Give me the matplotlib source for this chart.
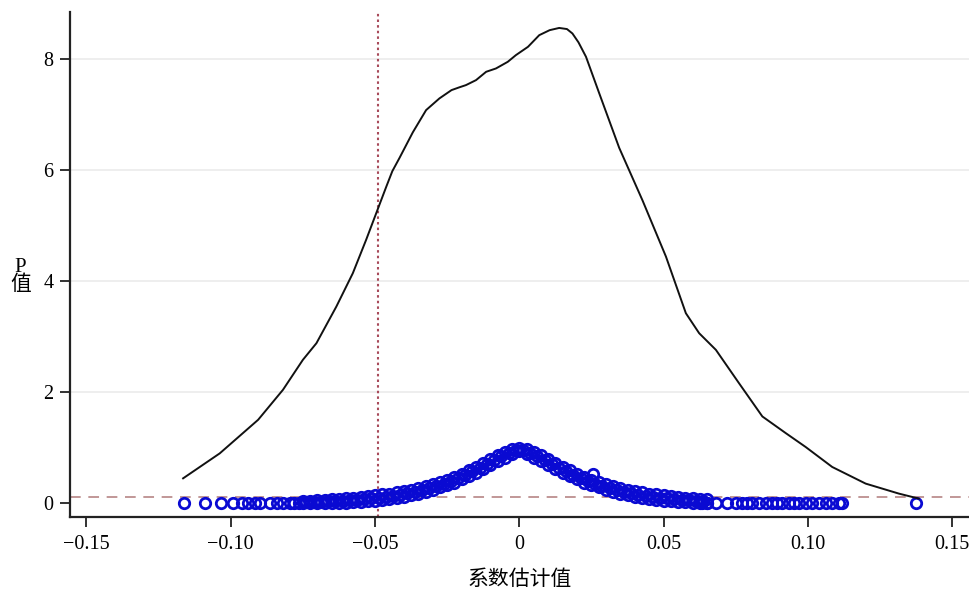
import numpy as np
import matplotlib.pyplot as plt

plt.rcParams['font.family'] = ['Liberation Serif', 'Noto Sans CJK SC', 'DejaVu Sans']
plt.rcParams['axes.unicode_minus'] = True

# kernel density of coefficient estimates (black curve)
kde_x = [-0.1165, -0.1038, -0.0905, -0.0819, -0.0750, -0.0703, -0.0634, -0.0577,
         -0.0531, -0.0496, -0.0461, -0.0440, -0.0415, -0.0369, -0.0323, -0.0277,
         -0.0235, -0.0208, -0.0185, -0.0150, -0.0115, -0.0081, -0.0040, -0.0012,
         0.0030, 0.0069, 0.0105, 0.0138, 0.0165, 0.0184, 0.0205, 0.0231, 0.0277,
         0.0346, 0.0427, 0.0508, 0.0577, 0.0623, 0.0681, 0.0761, 0.0842, 0.0923,
         0.0992, 0.1084, 0.1200, 0.1315, 0.1384]
kde_y = [0.445, 0.895, 1.50, 2.04, 2.58, 2.88, 3.54, 4.14,
         4.74, 5.22, 5.70, 5.98, 6.22, 6.68, 7.08, 7.29,
         7.44, 7.49, 7.53, 7.62, 7.77, 7.83, 7.95, 8.07,
         8.22, 8.43, 8.52, 8.56, 8.54, 8.46, 8.30, 8.04, 7.38,
         6.40, 5.45, 4.44, 3.42, 3.06, 2.76, 2.16, 1.56, 1.26,
         1.01, 0.65, 0.35, 0.17, 0.08]

# p-values of the estimates (blue circles): upper and lower edge of the band
band_x = [-0.075, -0.0725, -0.07, -0.0675, -0.065, -0.0625, -0.06, -0.0575, -0.055,
          -0.0525, -0.05, -0.0475, -0.045, -0.0425, -0.04, -0.0375, -0.035, -0.0325,
          -0.03, -0.0275, -0.025, -0.0225, -0.02, -0.0175, -0.015, -0.0125, -0.01,
          -0.0075, -0.005, -0.0025, 0.0, 0.0025, 0.005, 0.0075, 0.01, 0.0125, 0.015,
          0.0175, 0.02, 0.0225, 0.025, 0.0275, 0.03, 0.0325, 0.035, 0.0375, 0.04,
          0.0425, 0.045, 0.0475, 0.05, 0.0525, 0.055, 0.0575, 0.06, 0.0625, 0.065]
band_hi = [0.04, 0.045, 0.05, 0.055, 0.065, 0.07, 0.085, 0.095, 0.11,
           0.12, 0.14, 0.155, 0.17, 0.19, 0.215, 0.24, 0.27, 0.30,
           0.34, 0.38, 0.42, 0.47, 0.53, 0.59, 0.65, 0.72, 0.79,
           0.86, 0.92, 0.975, 1.00, 0.975, 0.92, 0.86, 0.79, 0.72, 0.65,
           0.59, 0.53, 0.47, 0.42, 0.38, 0.34, 0.30, 0.27, 0.24, 0.215,
           0.19, 0.17, 0.155, 0.14, 0.12, 0.11, 0.095, 0.085, 0.07, 0.065]
band_lo = [0.0, 0.0, 0.0, 0.0, 0.0, 0.0, 0.005, 0.01, 0.02,
           0.03, 0.04, 0.055, 0.07, 0.09, 0.115, 0.14, 0.17, 0.20,
           0.24, 0.28, 0.32, 0.37, 0.43, 0.49, 0.55, 0.62, 0.69,
           0.76, 0.82, 0.88, 0.94, 0.88, 0.82, 0.76, 0.69, 0.62, 0.55,
           0.49, 0.43, 0.37, 0.32, 0.28, 0.24, 0.20, 0.17, 0.14, 0.115,
           0.09, 0.07, 0.055, 0.04, 0.03, 0.02, 0.01, 0.005, 0.0, 0.0]
# estimates lying between the grid points above (middle of the band)
mid_x = [-0.07375, -0.07125, -0.06875, -0.06625, -0.06375, -0.06125, -0.05875,
         -0.05625, -0.05375, -0.05125, -0.04875, -0.04625, -0.04375, -0.04125,
         -0.03875, -0.03625, -0.03375, -0.03125, -0.02875, -0.02625, -0.02375,
         -0.02125, -0.01875, -0.01625, -0.01375, -0.01125, -0.00875, -0.00625,
         -0.00375, -0.00125, 0.00125, 0.00375, 0.00625, 0.00875, 0.01125, 0.01375,
         0.01625, 0.01875, 0.02125, 0.02375, 0.02625, 0.02875, 0.03125, 0.03375,
         0.03625, 0.03875, 0.04125, 0.04375, 0.04625, 0.04875, 0.05125, 0.05375,
         0.05625, 0.05875, 0.06125, 0.06375]
mid_y = [0.021, 0.024, 0.026, 0.03, 0.035, 0.041, 0.05,
         0.06, 0.07, 0.082, 0.097, 0.112, 0.13, 0.152,
         0.177, 0.205, 0.235, 0.27, 0.31, 0.35, 0.395,
         0.45, 0.51, 0.57, 0.635, 0.705, 0.775, 0.84,
         0.90, 0.955, 0.955, 0.90, 0.84, 0.775, 0.705, 0.635,
         0.57, 0.51, 0.45, 0.395, 0.35, 0.31, 0.27, 0.235,
         0.205, 0.177, 0.152, 0.13, 0.112, 0.097, 0.082, 0.07,
         0.06, 0.05, 0.041, 0.035]
tail_x = [-0.1163, -0.1090, -0.1035, -0.0993, -0.0960, -0.0941, -0.0917, -0.0900,
          -0.0865, -0.0841, -0.0820, -0.0796, -0.0780, -0.0765,
          0.0633, 0.0650, 0.0680, 0.0720, 0.0751, 0.0772, 0.0789, 0.0806, 0.0830,
          0.0855, 0.0875, 0.0893, 0.0910, 0.0934, 0.0952, 0.0969, 0.0993, 0.1014,
          0.1038, 0.1062, 0.1083, 0.1107, 0.1118, 0.1374]
tail_y = [0.0] * len(tail_x)
outlier_x = [0.0255]
outlier_y = [0.52]

p_line = 0.1
b_line = -0.049

fig = plt.figure(figsize=(9.69, 5.89), dpi=100)
ax = fig.add_axes([0.0722, 0.1222, 0.9278, 0.8574])

for v in [2, 4, 6, 8]:
    ax.axhline(v, color='#ebebeb', lw=1.2, zorder=0)

ax.plot(kde_x, kde_y, color='#111111', lw=1.4, zorder=3)

mk = dict(ls='none', marker='o', ms=7.5, mfc='none', mec='#0a0ad2', mew=2.0, zorder=2)
ax.plot(band_x, band_hi, **mk)
ax.plot(band_x, band_lo, **mk)
ax.plot(mid_x, mid_y, **mk)
ax.plot(tail_x, tail_y, **mk)
ax.plot(outlier_x, outlier_y, **mk)

ax.axhline(p_line, color='#b07a7a', lw=1.1, ls=(0, (7, 5)), zorder=1)
ax.axvline(b_line, color='#a84a5a', lw=1.5, ls=(0, (1.2, 1.5)), zorder=1)

ax.set_xlim(-0.1557, 0.1558)
ax.set_ylim(-0.252, 8.847)
ax.set_xticks([-0.15, -0.10, -0.05, 0, 0.05, 0.10, 0.15])
ax.set_xticklabels(['\u22120.15', '\u22120.10', '\u22120.05', '0', '0.05', '0.10', '0.15'])
ax.set_yticks([0, 2, 4, 6, 8])
ax.tick_params(axis='both', labelsize=14.5, length=7, width=1.3, direction='out', color='#222222')
ax.tick_params(axis='x', pad=6)
ax.tick_params(axis='y', pad=5)

for s in ['top', 'right']:
    ax.spines[s].set_visible(False)
for s in ['left', 'bottom']:
    ax.spines[s].set_linewidth(1.6)
    ax.spines[s].set_color('#222222')

ax.set_xlabel('系数估计值', fontsize=15, labelpad=10, family=['Noto Sans CJK SC'])
ax.set_ylabel('P\n值', fontsize=15, rotation=0, labelpad=6, linespacing=0.9,
              family=['Liberation Serif', 'Noto Sans CJK SC'])
ax.yaxis.set_label_coords(-0.055, 0.44)

fig.savefig('out.png', dpi=100)
